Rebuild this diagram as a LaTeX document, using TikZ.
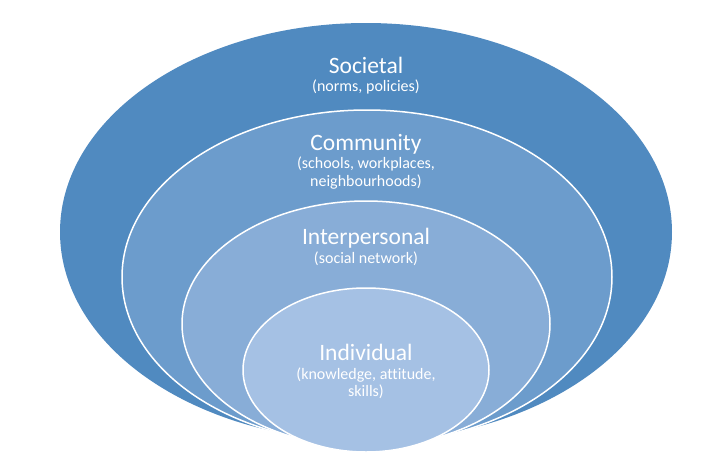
\documentclass[tikz,border=0pt]{standalone}
\usepackage{fontspec}
\setmainfont{Carlito}[Ligatures=NoCommon]
\definecolor{c1}{HTML}{508AC0}
\definecolor{c2}{HTML}{6C9CCC}
\definecolor{c3}{HTML}{88ADD7}
\definecolor{c4}{HTML}{A5C1E4}
\begin{document}
\begin{tikzpicture}[x=1pt,y=-1pt,
  ring/.style={draw=white,line width=1.5pt},
  ttl/.style={text=white,font=\fontsize{23.5}{26}\selectfont,inner sep=0pt,anchor=base},
  sub/.style={text=white,font=\fontsize{16}{18}\selectfont,inner sep=0pt,align=center,anchor=base}]
\useasboundingbox (0,0) rectangle (716,464);
\fill[c1] (366,232) ellipse [x radius=306,y radius=209];
\draw[ring,fill=c2] (367,277) ellipse [x radius=245,y radius=167];
\draw[ring,fill=c3] (366,324) ellipse [x radius=184,y radius=123];
\draw[ring,fill=c4] (366,370) ellipse [x radius=123,y radius=82];
\node[ttl] (soc) at (366,73) {Societal};
\node[sub] (socs) at (366,91) {(norms, policies)};
\node[ttl] (com) at (366,150) {Community};
\node[sub] (coms) at (366,168) {(schools, workplaces,};
\node[sub] (coms2) at (366,186) {neighbourhoods)};
\node[ttl] (int) at (366,244) {Interpersonal};
\node[sub] (ints) at (366,263) {(social network)};
\node[ttl] (ind) at (366,360) {Individual};
\node[sub] (inds) at (366,379) {(knowledge, attitude,};
\node[sub] (inds2) at (366,396) {skills)};
\end{tikzpicture}
\end{document}
